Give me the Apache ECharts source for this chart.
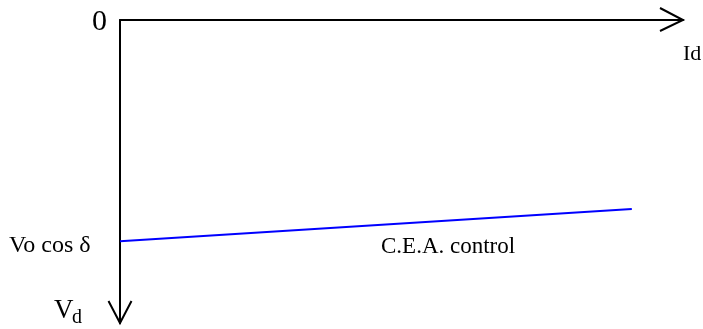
<!DOCTYPE html>
<html>
<head>
<meta charset="utf-8">
<script src="https://cdn.jsdelivr.net/npm/echarts@6/dist/echarts.min.js"></script>
<style>
  html, body { margin: 0; padding: 0; background: #ffffff; }
  #chart { width: 703px; height: 329px; }
</style>
</head>
<body>
<div id="chart"></div>
<script>
// Direct current Id (horizontal) against direct voltage Vd (pointing down)
const idValues = [0, 1.0];
const vdValues = [1.0, 0.855];
const idMax = 1.1;
const vdMax = 1.37;

const serifFont = '"Liberation Serif", "Times New Roman", serif';

const chart = echarts.init(document.getElementById('chart'), null, { renderer: 'canvas' });

chart.setOption({
  animation: false,
  backgroundColor: '#ffffff',
  grid: { left: 120, top: 20, right: 20, bottom: 6, containLabel: false },
  xAxis: {
    type: 'value', position: 'top', min: 0, max: idMax,
    axisLine: { show: true, onZero: false, lineStyle: { color: '#000', width: 2 } },
    axisTick: { show: false }, axisLabel: { show: false }, splitLine: { show: false }
  },
  yAxis: {
    type: 'value', inverse: true, min: 0, max: vdMax,
    axisLine: { show: true, onZero: false, lineStyle: { color: '#000', width: 2 } },
    axisTick: { show: false }, axisLabel: { show: false }, splitLine: { show: false }
  },
  series: [{
    name: 'C.E.A. control',
    type: 'line',
    data: idValues.map((x, i) => [x, vdValues[i]]),
    showSymbol: false,
    lineStyle: { color: '#0000ff', width: 2 }
  }]
});

// Axis-end arrows and labels
const tipX = chart.convertToPixel({ xAxisIndex: 0 }, idMax);
const originY = chart.convertToPixel({ yAxisIndex: 0 }, 0);
const originX = chart.convertToPixel({ xAxisIndex: 0 }, 0);
const tipY = chart.convertToPixel({ yAxisIndex: 0 }, vdMax);

function label(text, x, y, size) {
  return {
    type: 'text', x: x, y: y,
    style: { text: text, font: size + 'px ' + serifFont, fill: '#000', verticalAlign: 'middle', align: 'left' }
  };
}

chart.setOption({
  graphic: [
    {
      type: 'polyline',
      shape: { points: [[tipX - 23, originY - 12], [tipX, originY], [tipX - 23, originY + 11]] },
      style: { stroke: '#000', lineWidth: 2, fill: null }
    },
    {
      type: 'polyline',
      shape: { points: [[originX - 11.5, tipY - 22], [originX, tipY], [originX + 11.5, tipY - 22]] },
      style: { stroke: '#000', lineWidth: 2, fill: null }
    },
    label('0', 92, 22, 30),
    label('Id', 683, 54, 22),
    label('Vo cos δ', 9, 246, 24),
    label('C.E.A. control', 381, 247, 23),
    label('V', 54, 311, 27),
    label('d', 72, 318, 20)
  ]
});
</script>
</body>
</html>
